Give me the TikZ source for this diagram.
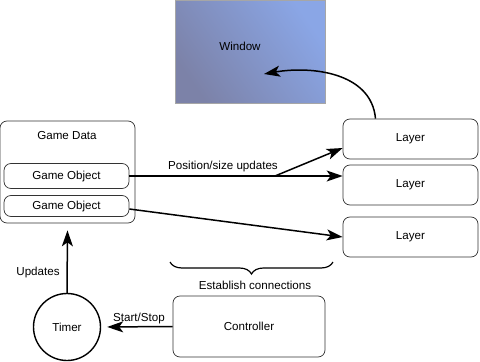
\documentclass[tikz,border=0pt]{standalone}
\usepackage{fontspec}
\setmainfont{Liberation Sans}
\usetikzlibrary{arrows.meta,decorations.pathreplacing}
\definecolor{wintop}{RGB}{124,130,168}
\definecolor{winbot}{RGB}{138,166,230}
\tikzset{
  box/.style={draw=black!80, line width=0.7pt, rounded corners=7pt, align=center},
  flow/.style={line width=1.5pt, -{Stealth[length=16pt,width=11pt,inset=4pt]}},
  lbl/.style={inner sep=0pt}
}

\begin{document}
\begin{tikzpicture}[x=1pt, y=-1pt, font=\fontsize{11.6}{13}\selectfont]
			%%%%% START %%%%%
			\useasboundingbox (0,0) rectangle (480,362);
			
			% window at the top
			\node[draw=black!35, line width=0.6pt, minimum width=150pt, minimum height=103pt,
			      left color=wintop, right color=winbot, shading angle=125,
			      inner sep=0pt, anchor=north west] (window) at (175,0) {};
			\node[lbl] at (240,46) {Window};
			
			% game data with its objects
			\node[box, minimum width=135pt, minimum height=102pt] (gamedata) at (67.5,172) {};
			\node[lbl] at (67,136) {Game Data};
			\node[box, minimum width=125pt, minimum height=25pt] (go1) at (66.5,176) {Game Object};
			\node[box, minimum width=125pt, minimum height=21pt] (go2) at (66.5,206) {Game Object};
			
			% layers
			\node[box, minimum width=135pt, minimum height=40pt] (layer1) at (410.5,139) {Layer};
			\node[box, minimum width=135pt, minimum height=40pt] (layer2) at (410.5,185) {Layer};
			\node[box, minimum width=135pt, minimum height=40pt] (layer3) at (410.5,237) {Layer};
			
			% timer and controller
			\node[draw=black, line width=1.4pt, circle, minimum size=67pt] (timer) at (67,327) {Timer};
			\node[box, minimum width=152pt, minimum height=61pt] (controller) at (249,326.5) {Controller};
			
			% updates to the layers
			\draw[flow] (go1.east) -- (go1.east -| layer2.west);
			\coordinate (split) at (275,176);
			\draw[flow] (split) -- ([yshift=-9pt]layer1.west);
			\node[lbl] at (223,166) {Position/size updates};
			\draw[flow] ([yshift=-3pt]go2.east) -- (layer3.west);
			
			% layer drawn into the window
			\coordinate (winpt) at (264,74);
			\draw[flow] ([xshift=-35pt]layer1.north) to[out=95, in=10] (winpt);
			
			% timer drives the game data
			\draw[flow] (timer.north) -- ([yshift=-7pt]gamedata.south);
			\node[lbl] at (38,272) {Updates};
			
			\draw[flow, shorten >=6pt] (controller.west) -- (timer.east);
			\node[lbl] at (139,318) {Start/Stop};
			
			\draw[line width=1.2pt, decorate, decoration={brace, mirror, amplitude=12pt}] (170,262) -- (333,262);
			\node[lbl] at (255,285) {Establish connections};
			
			%%%%% END %%%%%
		\end{tikzpicture}
\end{document}
